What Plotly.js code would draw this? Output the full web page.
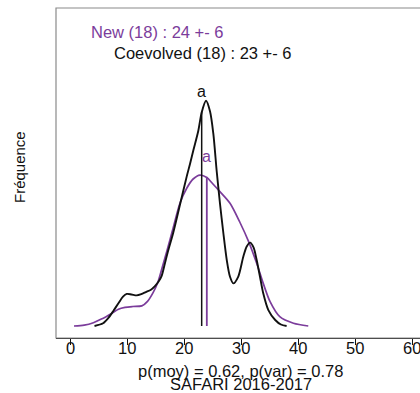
<!DOCTYPE html>
<html>
<head>
<meta charset="utf-8">
<script src="https://cdn.plot.ly/plotly-3.0.1.min.js"></script>
<style>
html, body { margin: 0; padding: 0; width: 420px; height: 393px; overflow: hidden; background: #fff; }
#chart { width: 450px; height: 393px; }
</style>
</head>
<body>
<div id="chart"></div>
<script>
// Coevolved (black) density curve
const coevX = [4.3, 5.8, 6.7, 7.6, 8.5, 9.3, 9.95, 10.8, 11.7, 12.5, 13.3, 14.2, 14.9, 15.6, 16.1, 16.6, 17.25, 18.1, 19.3, 20.47, 21.05, 21.63, 22.5, 23.1, 23.86, 24.56, 25.14, 25.74, 26.3, 26.9, 27.5, 28.07, 28.65, 29.5, 30.4, 31.0, 31.6, 32.2, 32.75, 33.33, 33.9, 34.8, 36.0, 37.0, 38.0];
const coevY = [0, 0.0009, 0.0026, 0.005, 0.0076, 0.0098, 0.0107, 0.0105, 0.0102, 0.0106, 0.0113, 0.0121, 0.0133, 0.015, 0.0168, 0.0205, 0.0253, 0.031, 0.0405, 0.0498, 0.054, 0.0585, 0.065, 0.0712, 0.0751, 0.0716, 0.0642, 0.0515, 0.041, 0.031, 0.022, 0.0164, 0.0142, 0.0164, 0.0231, 0.0265, 0.0278, 0.0262, 0.022, 0.0164, 0.0109, 0.0053, 0.002, 0.0005, 0];
// New (purple) density curve
const newX = [0.7, 2.5, 4.1, 5.5, 7.3, 8.5, 9.65, 11.0, 12.6, 13.6, 14.6, 15.4, 16.1, 17.0, 18.0, 19.3, 20.5, 21.6, 22.8, 24.0, 25.0, 26.3, 28.07, 29.82, 31.3, 32.75, 33.9, 35.1, 36.8, 39.2, 41.8];
const newY = [0, 0.0003, 0.0011, 0.0023, 0.0042, 0.0056, 0.0062, 0.0065, 0.0067, 0.0082, 0.0112, 0.0145, 0.019, 0.025, 0.032, 0.041, 0.046, 0.049, 0.0503, 0.0495, 0.0475, 0.0448, 0.0409, 0.0345, 0.0283, 0.0209, 0.0142, 0.0081, 0.0031, 0.0009, 0];
// Means and density at mean
const coevMean = 23.1, coevMeanDens = 0.0714;
const newMean = 24.0, newMeanDens = 0.0497;
const coevLetterY = 0.0783, newLetterY = 0.0564;
const xTicks = [0, 10, 20, 30, 40, 50, 60];
const legendNew = "New (18) : 24 +- 6";
const legendCoev = "Coevolved (18) : 23 +- 6";
const subtitle1 = "p(moy) = 0.62, p(var) = 0.78";
const subtitle2 = "SAFARI 2016-2017";
const yLabel = "Fréquence";

const BLACK = "#111111";
const PURPLE = "#7B3C9B";
const FONT = "Liberation Sans, Arial, sans-serif";

const traces = [
  {x: newX, y: newY, mode: "lines", line: {color: PURPLE, width: 1.7, shape: "spline", smoothing: 0.8}, hoverinfo: "skip"},
  {x: coevX, y: coevY, mode: "lines", line: {color: BLACK, width: 1.9, shape: "spline", smoothing: 0.8}, hoverinfo: "skip"},
  {x: [coevMean, coevMean], y: [0, coevMeanDens], mode: "lines", line: {color: BLACK, width: 1.5}, hoverinfo: "skip"},
  {x: [newMean, newMean], y: [0, newMeanDens], mode: "lines", line: {color: PURPLE, width: 1.8}, hoverinfo: "skip"}
];

const tickAnnotations = xTicks.map(v => ({
  x: v, xref: "x", yref: "paper", y: -0.031, xanchor: "center", yanchor: "middle",
  text: String(v), showarrow: false, font: {family: FONT, size: 16.5, color: BLACK}
}));

const layout = {
  width: 450, height: 393,
  margin: {l: 56, r: 8, t: 8, b: 55},
  showlegend: false,
  paper_bgcolor: "#fff", plot_bgcolor: "#fff",
  font: {family: FONT, color: BLACK, size: 16},
  xaxis: {
    range: [-2.456, 65.26], tickvals: xTicks, showticklabels: false,
    ticks: "outside", ticklen: 6, tickcolor: BLACK, tickwidth: 1,
    showline: true, linecolor: BLACK, linewidth: 1,
    showgrid: false, zeroline: false
  },
  yaxis: {
    range: [-0.004, 0.106], showticklabels: false, ticks: "",
    showgrid: false, zeroline: false, showline: false
  },
  shapes: [
    {type: "rect", xref: "paper", yref: "paper", x0: 0, x1: 1, y0: 0, y1: 1, line: {color: "#8a8a8a", width: 1.2}}
  ],
  annotations: [
    {xref: "paper", yref: "paper", x: 0.0855, y: 0.928, xanchor: "left", yanchor: "middle", text: legendNew, showarrow: false, font: {family: FONT, size: 16.5, color: PURPLE}},
    {xref: "paper", yref: "paper", x: 0.145, y: 0.8645, xanchor: "left", yanchor: "middle", text: legendCoev, showarrow: false, font: {family: FONT, size: 16.5, color: BLACK}},
    {x: coevMean, y: coevLetterY, text: "a", showarrow: false, xanchor: "center", yanchor: "middle", font: {family: FONT, size: 16, color: BLACK}},
    {x: newMean, y: newLetterY, text: "a", showarrow: false, xanchor: "center", yanchor: "middle", font: {family: FONT, size: 16, color: PURPLE}},
    {xref: "paper", yref: "paper", x: 0.478, y: -0.1, xanchor: "center", yanchor: "middle", text: subtitle1, showarrow: false, font: {family: FONT, size: 16.5, color: BLACK}},
    {xref: "paper", yref: "paper", x: 0.478, y: -0.138, xanchor: "center", yanchor: "middle", text: subtitle2, showarrow: false, font: {family: FONT, size: 16.5, color: BLACK}},
    {xref: "paper", yref: "paper", x: -0.096, y: 0.518, xanchor: "center", yanchor: "middle", textangle: -90, text: yLabel, showarrow: false, font: {family: FONT, size: 15, color: BLACK}}
  ].concat(tickAnnotations)
};

Plotly.newPlot("chart", traces, layout, {staticPlot: true, displayModeBar: false});
</script>
</body>
</html>
